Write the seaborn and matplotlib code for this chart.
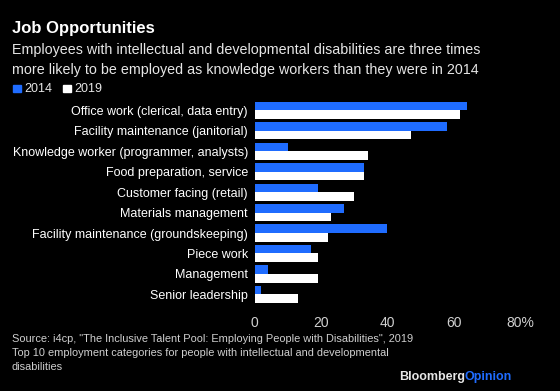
import pandas as pd
import seaborn as sns
import matplotlib.pyplot as plt

# Data
categories = [
    'Office work (clerical, data entry)',
    'Facility maintenance (janitorial)',
    'Knowledge worker (programmer, analysts)',
    'Food preparation, service',
    'Customer facing (retail)',
    'Materials management',
    'Facility maintenance (groundskeeping)',
    'Piece work',
    'Management',
    'Senior leadership',
]
share_2014 = [64, 58, 10, 33, 19, 27, 40, 17, 4, 2]
share_2019 = [62, 47, 34, 33, 30, 23, 22, 19, 19, 13]
years = ['2014', '2019']
x_ticks = [0, 20, 40, 60, 80]
x_labels = ['0', '20', '40', '60', '80%']

df = pd.DataFrame({
    'category': categories * 2,
    'year': [years[0]] * len(categories) + [years[1]] * len(categories),
    'share': share_2014 + share_2019,
})

BLUE = '#1f6cff'
BG = 'black'

sns.set_style('dark')
plt.rcParams['font.family'] = ['Liberation Sans', 'DejaVu Sans']

fig = plt.figure(figsize=(5.6, 3.91), dpi=100, facecolor=BG)
ax = fig.add_axes([0.455, 0.221, 0.515, 0.523])
ax.set_facecolor(BG)

sns.barplot(data=df, y='category', x='share', hue='year', orient='h',
            palette=[BLUE, 'white'], width=0.84, saturation=1,
            linewidth=0, legend=False, ax=ax)

ax.set_xlim(0, 87)
ax.set_ylim(len(categories) - 0.5, -0.5)
ax.set_xticks(x_ticks, x_labels)
ax.set_xlabel('')
ax.set_ylabel('')
ax.grid(False)
for s in ax.spines.values():
    s.set_visible(False)
ax.tick_params(axis='x', colors='#8a8a8a', labelsize=10, length=5,
               direction='in', pad=8, width=0.8)
ax.tick_params(axis='y', colors='white', labelsize=9, length=0, pad=5)
ax.xaxis.set_tick_params(labelcolor='#d0d0d0')

# Titles
fig.text(0.021, 0.928, 'Job Opportunities', color='white', fontsize=12,
         fontweight='bold', va='center')
fig.text(0.021, 0.872, 'Employees with intellectual and developmental disabilities are three times',
         color='#e6e6e6', fontsize=10.3, va='center')
fig.text(0.021, 0.820, 'more likely to be employed as knowledge workers than they were in 2014',
         color='#e6e6e6', fontsize=10.3, va='center')

# Legend
fig.patches.append(plt.Rectangle((0.024, 0.764), 0.013, 0.019, color=BLUE,
                                 transform=fig.transFigure, figure=fig))
fig.text(0.044, 0.772, '2014', color='#e6e6e6', fontsize=9, va='center')
fig.patches.append(plt.Rectangle((0.113, 0.764), 0.013, 0.019, color='white',
                                 transform=fig.transFigure, figure=fig))
fig.text(0.132, 0.772, '2019', color='#e6e6e6', fontsize=9, va='center')

# Footnotes
foot = ('Source: i4cp, "The Inclusive Talent Pool: Employing People with Disabilities", 2019\n'
        'Top 10 employment categories for people with intellectual and developmental\n'
        'disabilities')
fig.text(0.021, 0.145, foot, color='#cfcfcf', fontsize=7.9, va='top',
         linespacing=1.45)
fig.text(0.830, 0.036, 'Bloomberg', color='#e6e6e6', fontsize=9,
         fontweight='bold', ha='right', va='center')
fig.text(0.830, 0.036, 'Opinion', color=BLUE, fontsize=9,
         fontweight='bold', ha='left', va='center')

fig.savefig('out.png', dpi=100, facecolor=BG)
